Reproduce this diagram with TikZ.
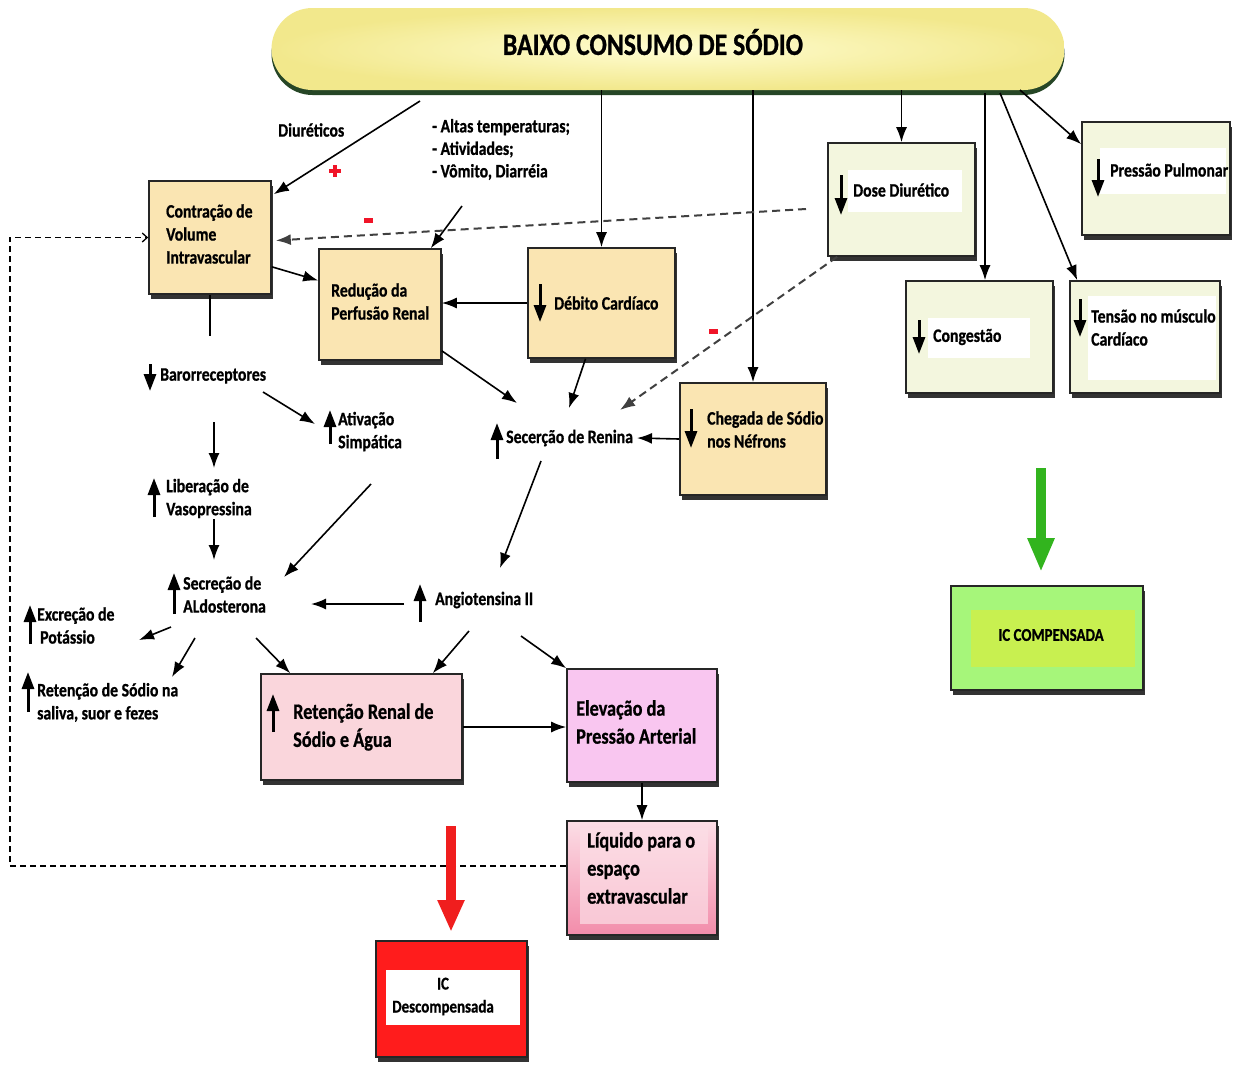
\documentclass[tikz,border=0pt]{standalone}
\usepackage{fontspec}
\setmainfont{Carlito}[FakeStretch=0.83, BoldFeatures={FakeBold=0.8}]
\usetikzlibrary{arrows.meta,shadows}

\definecolor{tanfill}{RGB}{250,229,178}
\definecolor{palegreen}{RGB}{243,246,222}
\definecolor{pinkA}{RGB}{250,214,220}
\definecolor{pinkB}{RGB}{249,198,240}
\definecolor{pinkTop}{RGB}{252,222,230}
\definecolor{pinkBot}{RGB}{242,140,170}
\definecolor{redbox}{RGB}{255,28,28}
\definecolor{redarrow}{RGB}{240,30,30}
\definecolor{greenbox}{RGB}{166,246,122}
\definecolor{greeninner}{RGB}{200,240,80}
\definecolor{greenarrow}{RGB}{50,180,30}
\definecolor{bannerA}{RGB}{255,253,210}
\definecolor{bannerB}{RGB}{242,232,140}
\definecolor{signred}{RGB}{240,20,40}

\begin{document}
\begin{tikzpicture}[x=1pt,y=-1pt,
  boxshadow/.style={drop shadow={shadow xshift=2pt, shadow yshift=-4.5pt, fill=black, opacity=0.8}},
  cbox/.style={draw=black!85, line width=1.6pt, inner sep=0pt, boxshadow},
  tanbox/.style={cbox, fill=tanfill},
  greenish/.style={cbox, fill=palegreen},
  lbl/.style={anchor=west, inner sep=0pt, align=left, font=\bfseries\fontsize{19}{23}\selectfont},
  biglbl/.style={anchor=west, inner sep=0pt, align=left, font=\bfseries\fontsize{22}{28}\selectfont},
  arr/.style={line width=1.6pt, -{Latex[length=15pt,width=11pt]}},
  dasharr/.style={line width=2pt, draw=black!75, dash pattern=on 8pt off 5pt, -{Latex[length=15pt,width=11pt]}},
  ind/.style={line width=3pt, -{Triangle[length=17pt,width=12pt]}},
  markbar/.style={fill=signred, inner sep=0pt}
]
\useasboundingbox (0,0) rectangle (1234,1072);
\fill[white] (0,0) rectangle (1234,1072);

% ---- banner ----
\node[rounded corners=41pt, minimum width=793pt, minimum height=82pt, inner sep=0pt,
      inner color=bannerA, outer color=bannerB,
      drop shadow={shadow xshift=0pt, shadow yshift=-5pt, fill=black!85!green, opacity=0.85}]
      (banner) at (668,49) {};
\node[font=\bfseries\fontsize{31}{36}\selectfont] (title) at (653,42) {BAIXO CONSUMO DE SÓDIO};

% ---- tan boxes ----
\node[tanbox, minimum width=122pt, minimum height=113pt] (contr) at (210,237.5) {};
\node[tanbox, minimum width=122pt, minimum height=111pt] (redu) at (380,304.5) {};
\node[tanbox, minimum width=147pt, minimum height=110pt] (deb) at (601.5,303) {};
\node[tanbox, minimum width=146pt, minimum height=112pt] (cheg) at (753,439) {};

% ---- pale green boxes ----
\node[greenish, minimum width=147pt, minimum height=113pt] (dose) at (901.5,199.5) {};
\node[greenish, minimum width=148pt, minimum height=113pt] (pulm) at (1156,178.5) {};
\node[greenish, minimum width=147pt, minimum height=112pt] (cong) at (979.5,337) {};
\node[greenish, minimum width=150pt, minimum height=112pt] (tens) at (1145,337) {};
\fill[white] (848,170) rectangle (962,212);
\fill[white] (1100,148) rectangle (1226,194);
\fill[white] (928,318) rectangle (1030,358);
\fill[white] (1088,296) rectangle (1216,380);

% ---- pink boxes ----
\node[cbox, fill=pinkA, minimum width=201pt, minimum height=106pt] (retren) at (361.5,727) {};
\node[cbox, fill=pinkB, minimum width=150pt, minimum height=113pt] (elev) at (642,725.5) {};
\node[cbox, top color=pinkTop, bottom color=pinkBot, minimum width=150pt, minimum height=114pt] (liq) at (642,878) {};
\fill[pinkTop, opacity=0.7] (580,828) rectangle (708,924);

% ---- outcome boxes ----
\node[cbox, fill=redbox, minimum width=151pt, minimum height=116pt] (desc) at (451.5,999) {};
\fill[white] (386,970) rectangle (520,1025);
\node[cbox, fill=greenbox, minimum width=192pt, minimum height=104pt] (comp) at (1047,638) {};
\fill[greeninner] (971,610) rectangle (1135,667);

% ---- box texts ----
\node[lbl] (tcontr) at (166,234) {Contração de\\Volume\\Intravascular};
\node[lbl] (tredu) at (331,301.5) {Redução da\\Perfusão Renal};
\node[lbl] (tdeb) at (554,303) {Débito Cardíaco};
\node[lbl] (tcheg) at (707,429.5) {Chegada de Sódio\\nos Néfrons};
\node[lbl] (tdose) at (853,190) {Dose Diurético};
\node[lbl] (tpulm) at (1110,170) {Pressão Pulmonar};
\node[lbl] (tcong) at (933,337) {Congestão};
\node[lbl] (ttens) at (1091,327.5) {Tensão no músculo\\Cardíaco};
\node[biglbl] (tretren) at (293,727) {Retenção Renal de\\Sódio e Água};
\node[biglbl] (telev) at (576,722) {Elevação da\\Pressão Arterial};
\node[biglbl] (tliq) at (587,868) {Líquido para o\\espaço\\extravascular};
\node[lbl, anchor=center, align=center, font=\bfseries\fontsize{18}{23}\selectfont] (tdesc) at (443,996.5) {IC\\Descompensada};
\node[lbl, anchor=center, font=\bfseries\fontsize{18}{23}\selectfont] (tcomp) at (1051,635) {IC COMPENSADA};

% ---- free texts ----
\node[lbl] (diur) at (278,130) {Diuréticos};
\node[lbl, font=\bfseries\fontsize{19}{22.5}\selectfont] (causes) at (432,149.5) {- Altas temperaturas;\\- Atividades;\\- Vômito, Diarréia};
\node[lbl] (baro) at (160,376) {Barorreceptores};
\node[lbl] (ativ) at (338,431.5) {Ativação\\Simpática};
\node[lbl] (vaso) at (166,498.5) {Liberação de\\Vasopressina};
\node[lbl] (aldo) at (183,594.5) {Secreção de\\ALdosterona};
\node[lbl] (pota) at (37,625.5) {Excreção de\\\hspace*{3pt}Potássio};
\node[lbl] (saliva) at (37,702.5) {Retenção de Sódio na\\saliva, suor e fezes};
\node[lbl] (renina) at (506,438) {Secerção de Renina};
\node[lbl] (angio) at (435,600) {Angiotensina II};

% ---- red plus / minus marks ----
\node[markbar, minimum width=12pt, minimum height=4pt] (plusH) at (335,171) {};
\node[markbar, minimum width=4pt, minimum height=12pt] (plusV) at (335,171) {};
\node[markbar, minimum width=9pt, minimum height=5pt] (minusA) at (368,220) {};
\node[markbar, minimum width=9pt, minimum height=5pt] (minusB) at (713,331) {};

% ---- up / down indicators ----
\draw[ind] (540,284) -- (540,322);
\draw[ind] (691,409) -- (691,448);
\draw[ind] (841,175) -- (841,215);
\draw[ind] (1098,159) -- (1098,197);
\draw[ind] (919,320) -- (919,354);
\draw[ind] (1080,299) -- (1080,337);
\draw[ind] (150,364) -- (150,391);
\draw[ind] (330,444) -- (330,410);
\draw[ind] (154,517) -- (154,478);
\draw[ind] (174,614) -- (174,573);
\draw[ind] (30,644) -- (30,605);
\draw[ind] (28,712) -- (28,672);
\draw[ind] (497,459) -- (497,423);
\draw[ind] (420,622) -- (420,584);
\draw[ind] (273,732) -- (273,694);

% ---- connector end points ----
\coordinate (b1) at (420,101);
\coordinate (b5) at (985,93);
\coordinate (b6) at (1000,93);
\coordinate (b7) at (1020,90);
\coordinate (causesEnd) at (462,206);
\coordinate (reninaIn1) at (517,403);
\coordinate (reninaIn2) at (569,408);
\coordinate (reninaIn3) at (620,410);
\coordinate (reninaR) at (637,438);
\coordinate (reninaOut) at (541,461);
\coordinate (doseL) at (806,209);
\coordinate (contrOut) at (210,336);
\coordinate (baroOut) at (263,392);
\coordinate (ativIn) at (315,424);
\coordinate (baroDownA) at (214,422);
\coordinate (baroDownB) at (214,468);
\coordinate (vasoDownA) at (214,519);
\coordinate (vasoDownB) at (214,560);
\coordinate (ativOut) at (371,484);
\coordinate (aldoIn1) at (284,577);
\coordinate (angioIn) at (500,568);
\coordinate (angioOut) at (404,604);
\coordinate (aldoIn2) at (311,604);
\coordinate (aldoOut1) at (171,627);
\coordinate (potaIn) at (139,640);
\coordinate (aldoOut2) at (195,638);
\coordinate (salivaIn) at (172,677);
\coordinate (aldoOut3) at (256,638);
\coordinate (angioOut2) at (469,631);
\coordinate (angioOut3) at (521,636);
\coordinate (loopA) at (10,866);
\coordinate (loopB) at (10,237.5);
\coordinate (redA) at (451,826);
\coordinate (redB) at (451,932);
\coordinate (grnA) at (1041,468);
\coordinate (grnB) at (1041,572);

% ---- connectors ----
\draw[arr] (b1) -- ([shift={(2pt,-14pt)}]contr.north east);
\draw[arr] (banner.south -| deb.north) -- (deb.north);
\draw[arr] (banner.south -| cheg.north) -- (cheg.north);
\draw[arr] (banner.south -| dose.north) -- (dose.north);
\draw[arr] (b5) -- ([xshift=5.5pt]cong.north);
\draw[arr] (b6) -- ([xshift=8pt]tens.north west);
\draw[arr] (b7) -- ([yshift=-23pt]pulm.north west);
\draw[arr] (causesEnd) -- ([xshift=-11pt]redu.north east);
\draw[arr] ([yshift=28pt]contr.south east) -- ([yshift=24pt]redu.west);
\draw[arr] (deb.west) -- (deb.west -| redu.east);
\draw[arr] ([yshift=10pt]redu.south east) -- (reninaIn1);
\draw[arr] ([xshift=-16pt]deb.south) -- (reninaIn2);
\draw[dasharr] ([xshift=10pt]dose.south west) -- (reninaIn3);
\draw[dasharr] (doseL) -- ([shift={(4pt,-3pt)}]contr.east);
\draw[arr] (cheg.west) -- (reninaR);
\draw[line width=1.6pt] (contr.south) -- (contrOut);
\draw[arr] (baroOut) -- (ativIn);
\draw[arr] (baroDownA) -- (baroDownB);
\draw[arr] (vasoDownA) -- (vasoDownB);
\draw[arr] (ativOut) -- (aldoIn1);
\draw[arr] (reninaOut) -- (angioIn);
\draw[arr] (angioOut) -- (aldoIn2);
\draw[arr] (aldoOut1) -- (potaIn);
\draw[arr] (aldoOut2) -- (salivaIn);
\draw[arr] (aldoOut3) -- ([xshift=30pt]retren.north west);
\draw[arr] (angioOut2) -- ([xshift=-30pt]retren.north east);
\draw[arr] (angioOut3) -- (elev.north west);
\draw[arr] (retren.east) -- (retren.east -| elev.west);
\draw[arr] (elev.south) -- (liq.north);
\draw[line width=1.3pt, dash pattern=on 6pt off 4pt, -{Straight Barb[length=5pt,width=9pt]}]
  ([yshift=12pt]liq.west) -- (loopA) -- (loopB) -- (contr.west);
\draw[line width=10pt, draw=redarrow, -{Triangle[length=32pt,width=25pt]}] (redA) -- (redB);
\draw[line width=10pt, draw=greenarrow, -{Triangle[length=34pt,width=25pt]}] (grnA) -- (grnB);
\end{tikzpicture}
\end{document}
